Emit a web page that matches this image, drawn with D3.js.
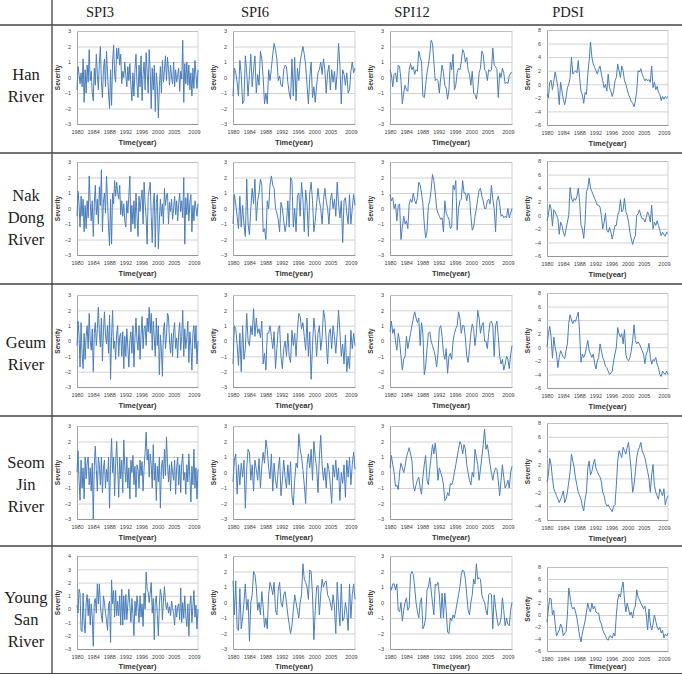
<!DOCTYPE html>
<html><head><meta charset="utf-8">
<script src="https://cdn.jsdelivr.net/npm/d3@7"></script>
<style>body{margin:0;background:#fff}svg{display:block}</style>
</head><body>
<svg id="c" width="682" height="674"></svg>
<script>
// ---------- data ----------
const rivers = [["Han","River"],["Nak","Dong","River"],["Geum","River"],["Seom","Jin","River"],["Young","San","River"]];
const indexNames = ["SPI3","SPI6","SPI12","PDSI"];
const spiTicks = [-3,-2,-1,0,1,2,3];
const spiTicksTall = [-3,-2,-1,0,1,2,3,4];
const pdsiTicks = [-6,-4,-2,0,2,4,6,8];
const xTickMonths = [0,48,96,144,192,240,288,348];
const xTickLabels = ["1980","1984","1988","1992","1996","2000","2005","2009"];
const xTitle = "Time(year)";
const yTitle = "Severity";

const hanSPI3 = [-0.8,0.7,0.2,-0.4, 0.3,-0.6,1.2,-1.6, 0.5,-1.0,0.8,-0.3, 1.8,-0.2,0.4,-1.0, -1.5,0.6,-0.5,1.5, 0.2,-0.8,1.0,2.0, -0.3,-1.3,0.5,1.2, -0.6,1.7,0.3,-1.0, -2.0,0.5,-1.8,1.0, 2.1,0.2,-0.3,1.9, 1.2,1.9,0.8,1.5, -0.4,0.4,0.0,1.0, 0.2,-0.6,0.7,-0.2, 0.9,-0.5,-1.5,0.3, -1.2,0.5,1.5,-0.4, -1.3,0.8,-0.6,1.4, -1.5,0.2,1.0,-0.8, 1.6,0.3,-1.0,1.8, 0.4,-2.0,0.6,-0.8, 0.8,-2.2,0.3,-0.5, -2.6,-0.6,0.7,-1.0, 1.1,-0.3,0.5,1.4, -0.2,1.3,0.5,-0.5, 0.8,0.0,-0.4,1.0, -0.6,0.5,-0.3,0.2, 0.6,-0.9,0.4,-0.1, 2.4,-1.6,0.9,-0.4, 1.0,-0.5,0.8,-0.8, 0.3,-1.2,0.6,-0.7, 1.1,0.2,-0.7,0.5];
const hanSPI6 = [-1.2,0.6,0.3, -0.3,-1.2,1.1, 0.2,-1.7,-1.5, 1.4,0.3,-1.2, 0.2,1.5,-0.6, 0.5,1.4,-1.0, 0.2,-0.5,1.7, 1.2,0.0,-1.7, -1.0,-1.7,0.5, -0.2,0.6,1.5, 2.2,1.8,1.2, -0.2,0.1,-0.5, -0.6,0.5,0.8, 0.7,-0.3,-1.0, -1.4,1.2,-1.2, 1.3,-1.5,0.6, -0.2,1.0,1.5, 2.0,1.5,0.8, -0.5,-1.7,0.0, 1.0,-1.3,-0.6, -1.6,-0.5,0.3, 0.5,1.0,0.2, 1.2,0.5,-1.0, 0.3,0.8,-0.8, 0.5,-0.3,0.4, -0.8,0.3,2.2, 0.8,-1.7,0.5, 0.2,-0.5,0.3, -1.0,-0.8,0.4, 1.0,0.3,0.6];
const hanSPI12 = [0.5,0.2,-0.6, 0.2,0.3,-0.3, 0.8,0.7,-0.2, -1.7,-1.0,-0.5, -0.8,-0.9,0.5, 0.9,0.5,0.7, 0.2,0.5,0.4, 1.7,1.3,1.0, -1.2,-1.3,-0.5, 0.3,0.8,1.5, 2.4,2.2,1.0, -0.2,-0.1,-0.2, -1.0,0.0,0.8, 0.3,-0.5,-0.7, -1.4,-0.8,1.0, 0.5,1.5,-0.8, -0.5,0.3,0.6, 0.5,1.0,1.8, 1.6,1.0,1.3, 0.5,0.2,-0.5, 0.4,-1.0,-1.1, -1.4,-0.8,0.3, 0.6,1.7,1.5, 0.5,0.4,-0.2, 0.5,0.4,0.5, 1.9,0.8,0.7, 0.5,-1.3,0.3, 0.0,0.6,0.3, -0.4,-0.3,-0.4, 0.1,0.3,0.3];
const hanPDSI = [-1.5,-2.0,0.3, 0.6,-0.8,0.5, 1.8,0.8,-0.5, -3.0,0.3,-1.0, -2.2,-3.0,-2.0, -0.5,0.0,1.0, 4.0,1.5,1.8, 2.0,1.7,3.5, 1.0,-1.0,-1.5, -2.8,-1.2,-1.5, 1.5,3.5,6.2, 4.0,3.0,2.5, 2.0,1.5,2.2, 2.7,1.5,0.5, -0.5,0.0,-1.0, 1.5,-0.5,-1.0, -1.8,-1.0,0.5, 1.0,3.0,2.0, 1.0,2.7,2.0, 0.5,0.0,-0.8, -1.5,-2.0,-2.5, -2.8,-3.3,-2.5, -1.0,2.0,1.8, 2.3,1.5,1.0, 0.5,0.8,0.5, 0.7,0.3,2.7, -0.5,0.3,-0.8, -0.3,-1.2,-1.5, -2.4,-1.8,-2.2, -1.8,-2.0,-1.8];

const nakSPI3 = [-0.5,1.1,0.3,-1.2, 0.8,-0.5,0.6,-1.5, 0.2,-1.3,0.5,-0.6, 2.1,0.4,-0.8,0.5, -1.8,0.3,1.5,-0.4, 0.6,-1.0,1.4,0.2, 2.5,-1.5,0.4,1.0, -0.3,2.1,0.5,-1.2, -2.4,0.6,-2.3,1.0, 0.3,1.8,0.8,1.7, 1.0,0.6,1.5,-0.4, 0.5,-0.5,0.3,-0.8, -1.2,0.5,-0.3,0.8, 2.1,-1.5,0.2,-1.0, 0.5,-1.3,1.0,-0.5, -1.8,0.8,-0.2,0.6, 1.2,-1.0,1.7,0.3, -0.6,-2.3,0.8,1.2, 1.7,-0.5,-2.2,0.3, 1.0,-2.5,0.4,0.9, -2.6,-0.8,0.6,-0.5, 0.3,-1.0,1.3,0.2, 0.8,1.0,-1.0,0.4, -0.2,0.6,-0.7,0.0, 0.8,-0.4,0.5,-0.8, 0.3,1.0,-0.2,0.5, -0.6,2.0,-2.3,0.7, -0.4,1.0,-0.8,0.4, 0.9,-1.5,0.2,-0.8, 0.5,0.0,-0.5,0.3];
const nakSPI6 = [-1.0,0.9,0.3, -0.5,-1.3,0.8, -1.2,0.2,-1.0, -1.8,1.9,-1.0, -1.7,0.0,1.3, 0.3,1.9,-0.8, 0.5,1.0,1.9, 1.5,-1.5,-1.3, -2.0,0.5,0.0, 1.5,2.1,1.5, 1.3,0.0,-0.3, -0.7,-1.5,0.4, 0.0,-0.8,-1.5, -1.0,0.5,-1.2, 2.0,1.8,-1.2, 0.0,-1.5,0.8, 1.0,-0.5,1.7, 0.6,-1.5,1.2, 0.3,-1.8,1.0, 1.7,0.5,-1.5, -0.8,0.3,1.3, 0.5,0.0,-1.0, 0.5,1.3,0.5, 0.0,-1.0,0.5, 1.0,0.0,0.6, -0.5,1.7,0.3, -0.6,0.5,-2.2, 0.5,0.7,-0.3, -1.0,0.9,-1.0, 0.0,0.9,0.2];
const nakSPI12 = [0.9,0.5,0.7, 0.0,0.3,-0.8, 0.2,0.3,-2.0, -1.2,-0.5,-1.0, -0.8,-1.3,0.3, 0.6,0.4,1.0, 0.5,0.3,0.7, 1.7,1.5,1.0, 0.3,-1.0,-1.9, -1.5,0.2,0.5, 1.2,2.2,1.8, 1.0,0.0,-0.3, -0.5,-0.7,-0.6, -1.5,0.5,-0.3, -0.5,-0.7,-1.3, -1.2,1.5,1.2, 1.8,-1.4,0.0, 0.5,0.6,1.8, 1.0,1.0,0.5, 1.0,0.8,-0.5, -1.4,-1.2,-0.5, 0.0,0.6,1.2, 1.3,0.8,0.5, 0.0,0.0,0.5, 0.6,0.3,1.5, 0.6,0.0,-1.5, 0.5,0.8,0.3, -0.5,-0.4,-0.6, -0.5,-0.6,0.0, -0.6,-0.3,0.0];
const nakPDSI = [-0.8,0.0,1.6, 1.0,-1.6,0.8, 0.5,0.0,-0.5, -2.8,-1.0,-1.5, -2.5,-3.1,-2.0, -1.0,0.0,4.1, 2.5,2.0,2.5, 2.2,2.8,4.0, 2.0,-1.5,-2.0, -3.4,-1.0,3.5, 4.0,5.5,4.0, 3.5,3.0,2.5, 2.0,1.5,1.5, 1.2,0.0,-2.0, -1.0,0.3,-2.2, -2.5,-1.8,-2.5, -3.5,-2.5,-1.5, -1.5,0.0,0.5, 2.3,0.5,0.8, 2.5,0.5,0.0, -1.0,-2.5,-3.5, -4.3,-3.5,-3.0, 0.0,0.2,0.8, 0.0,-0.5,-0.5, -1.0,-0.3,0.5, 0.0,-1.0,1.5, -2.0,-1.0,-1.5, -0.8,-1.5,-2.2, -3.0,-2.5,-2.8, -3.1,-2.5,-2.7];

const geumSPI3 = [-0.3,1.3,0.4,-1.7, 1.2,-0.8,-1.8,0.5, -1.2,0.3,1.0,-0.5, 1.8,0.0,-0.6,0.8, -2.0,0.5,1.2,-0.3, 0.8,2.2,0.5,-0.4, 1.5,-1.3,0.6,1.9, 0.4,-0.2,1.0,-0.8, 1.7,-2.5,0.3,2.0, -0.5,0.0,-1.2,0.5, 1.0,-1.0,0.3,0.5, -1.0,0.6,-1.8,0.3, -1.0,0.8,-0.4,-1.7, 0.0,0.6,-0.8,1.0, -1.7,0.2,1.5,0.0, -0.6,1.0,-1.2,0.4, 1.6,-0.5,0.8,1.0, -0.3,1.5,0.6,2.2, 0.5,1.8,-0.6,1.3, 0.2,-1.0,1.5,-0.3, 1.0,-2.2,0.4,-0.6, -2.3,0.7,1.2,-0.5, 0.3,1.8,1.6,0.0, -0.8,0.5,-1.0,0.6, 1.2,-0.5,0.2,-1.1, 0.5,1.2,-0.6,0.3, 2.0,-1.0,0.8,-0.5, 0.2,1.3,-1.4,0.6, -0.3,-1.9,0.5,1.0, -0.5,1.0,-1.5,0.0];
const geumSPI6 = [-1.5,1.0,0.8, -0.2,-1.6,0.5, -2.0,1.0,-1.2, -0.5,1.8,0.0, -0.3,1.0,0.4, 2.1,0.3,1.5, 0.5,0.8,0.2, 1.3,-1.5,-0.8, -1.9,0.5,0.5, 1.0,0.3,-0.5, 0.6,-1.8,-0.5, 0.8,1.0,-1.0, -1.8,-0.5,0.0, -1.0,0.5,-1.0, -1.4,0.7,-0.3, 0.5,-1.0,0.7, 1.8,1.6,0.8, 1.2,0.3,-0.6, 1.5,-1.0,0.6, -2.5,-0.3,1.5, 0.5,-1.0,0.5, 1.0,-0.6,0.2, 2.0,1.5,0.0, -1.5,0.5,0.8, -0.5,1.0,0.3, -0.8,0.5,2.0, 0.6,-1.0,-0.2, -1.5,0.4,-2.0, -1.0,-1.8,0.7, -0.5,0.5,-0.3];
const geumSPI12 = [0.6,1.3,0.5, 0.8,0.0,-0.6, 0.5,0.0,-1.0, -1.9,-1.2,-1.0, 0.3,-0.5,0.0, 0.5,1.0,1.5, 1.9,1.5,1.2, 1.5,-0.3,1.2, 0.5,-2.2,-1.7, -0.5,0.5,0.6, 0.0,-0.3,-0.6, -1.0,-1.7,-0.8, 0.8,1.0,0.3, -0.8,-1.2,-0.5, -2.1,-1.0,-0.8, -1.2,0.0,0.5, 0.8,1.0,1.9, 1.5,0.5,1.0, 1.0,0.2,-1.0, -1.4,-0.5,0.5, 1.1,0.8,-0.3, 0.5,2.0,1.5, 0.5,1.0,1.2, 0.0,0.0,-0.5, 0.5,1.2,1.3, 1.0,-1.0,1.0, 1.3,0.3,-1.0, -1.5,-1.2,-1.9, -1.5,-1.0,-1.2, -1.8,-0.9,-0.3];
const geumPDSI = [0.0,2.0,3.1, 1.5,-1.6,1.5, 0.0,-1.0,-3.0, -1.5,-0.5,-1.0, -1.5,-1.7,-0.5, 0.5,3.5,4.8, 4.0,3.5,4.0, 3.8,4.5,5.2, 2.0,-2.2,-1.0, -1.5,-1.0,0.0, 1.0,-0.5,-1.0, -1.5,-1.0,-2.3, -3.2,-2.0,-1.5, 0.5,-0.5,-1.5, -2.0,-2.8,-3.0, -3.5,-4.0,-3.8, -3.5,-2.0,-1.0, 0.0,2.9,2.0, 1.5,2.0,0.5, 2.6,-1.0,-1.8, -2.0,-1.5,-0.5, 1.0,3.3,1.0, 0.5,0.8,0.5, 0.0,-0.5,-1.0, -2.4,-1.0,-0.5, 0.6,-1.5,-2.5, -1.8,-2.0,-1.5, -2.5,-3.0,-4.0, -4.3,-3.5,-3.8, -4.0,-3.5,-4.0];

const seomSPI3 = [0.0,1.4,-0.5,-1.8, 0.8,-1.0,0.3,-1.7, 1.0,-0.4,0.6,1.0, -0.8,0.3,-1.2,0.6, -3.0,0.4,1.7,0.2, -1.2,1.0,0.5,-0.8, 1.0,-1.3,0.3,0.8, -1.0,0.2,-0.6,1.0, -2.3,0.5,2.2,0.0, 1.0,-1.5,0.6,2.0, 0.3,-1.6,1.0,-0.4, 0.8,-1.3,2.1,0.4, -0.6,1.0,-1.0,0.3, -1.7,0.8,0.0,1.1, -0.8,0.4,-1.6,0.5, 0.2,-1.0,0.8,-0.2, 0.7,-1.2,0.3,1.3, 2.6,0.8,1.5,-0.3, 1.2,0.5,-1.0,1.8, -0.5,0.6,-1.8,0.4, -0.6,1.0,-2.3,0.3, 0.8,-0.4,1.5,-0.2, 2.3,0.6,-0.6,0.5, -1.2,0.7,0.0,-0.5, 0.8,-1.4,0.3,1.0, -0.8,0.5,-1.3,0.6, 1.2,-0.5,0.0,-1.4, 0.5,-0.6,1.2,-0.3, -1.9,0.4,-0.8,1.5, -1.0,0.3,-1.7,0.2];
const seomSPI6 = [-0.6,0.8,1.2, -1.4,0.5,-0.8, 0.6,-0.3,0.8, -2.3,0.3,1.5, 1.3,-0.5,0.5, -1.2,0.8,0.2, -0.5,0.9,-1.0, 0.4,1.3,0.6, 2.1,1.5,0.3, -0.4,1.2,-1.2, 0.6,-0.5,-1.0, 0.2,1.0,-1.5, -0.5,0.8,-0.3, -1.0,0.5,-0.8, 0.7,-1.5,-2.1, -0.5,0.6,0.3, 2.5,1.5,1.0, 0.2,-0.8,-2.0, 0.5,1.2,0.3, 1.5,-0.5,2.0, 1.0,0.3,-1.3, 1.0,2.4,0.5, -0.5,0.3,-1.0, 0.6,0.2,-0.8, -2.0,0.5,-0.3, 0.8,-0.5,0.3, -1.8,0.0,-0.7, 0.5,-1.6,0.8, -0.3,1.0,-0.8, 0.5,1.3,0.2];
const seomSPI12 = [0.3,1.1,0.5, 0.0,-0.9,-0.8, -1.1,0.0,0.6, 0.3,0.0,0.4, 1.0,1.3,1.6, 1.2,0.8,-0.8, -1.2,-0.8,-0.5, -0.3,-1.0,-1.4, -0.3,0.5,1.1, -0.5,-0.8,0.2, 1.0,1.8,1.2, 1.9,1.0,-0.5, 0.3,0.0,-0.3, -0.8,-1.8,-1.7, -1.3,-1.5,-0.7, -0.8,-0.5,0.0, 0.5,1.0,1.5, 2.0,1.8,1.2, 1.8,1.5,0.5, 0.0,-0.5,-0.8, 0.0,-0.3,1.5, 1.0,0.5,-0.5, 0.2,1.0,1.8, 2.8,1.5,1.8, 1.2,0.5,0.0, -0.5,0.0,0.3, 0.2,-0.5,-1.5, -0.5,0.5,-0.3, -1.0,-0.8,-0.5, -1.0,0.0,0.4];
const seomPDSI = [-0.5,0.5,2.9, 2.0,0.0,-1.5, -2.0,-2.5,-3.0, -3.5,-3.0,-2.5, -1.8,-3.5,-3.0, -2.0,-0.5,1.0, 3.5,2.5,1.5, 0.0,-1.0,-2.0, -2.5,-3.0,-4.0, -4.7,-3.0,-2.0, 1.5,2.5,0.5, 1.0,2.0,2.8, 1.5,1.0,0.5, 0.2,-0.5,-2.0, -2.5,-3.5,-4.0, -3.8,-4.2,-4.5, -4.8,-4.0,-3.8, -1.0,2.5,4.0, 3.5,3.0,4.5, 4.0,3.5,4.5, 5.2,3.0,1.0, -2.0,-1.0,1.0, 3.0,4.0,4.5, 5.2,4.0,3.5, 3.0,2.0,1.0, 0.0,-2.0,0.5, 2.0,-1.0,-2.0, -2.5,-3.0,-1.5, -2.0,-2.5,-1.5, -3.8,-3.0,-2.5];

const youngSPI3 = [0.3,-0.3,1.5,1.2, -1.6,-1.7,1.2,-1.0, -1.8,0.5,1.1,-0.5, 0.8,-1.2,0.4,-0.6, -2.8,0.5,0.8,-0.3, 1.9,0.4,1.9,0.3, -0.5,-1.0,1.0,0.5, -0.3,-0.8,-1.6,0.3, 0.6,-2.5,2.2,0.4, 1.4,-0.6,1.4,-0.5, 0.6,-0.5,1.0,-1.2, 1.5,-1.2,1.0,-0.8, 1.1,-0.8,0.4,1.5, 0.3,-1.0,0.8,-0.4, -2.0,0.6,-0.5,1.0, 0.2,-1.0,1.0,-0.6, 0.4,-1.3,1.2,0.0, 2.8,1.5,1.3,0.5, 1.2,2.0,-0.3,0.8, -2.3,0.5,1.0,-0.4, -2.0,0.3,1.5,1.0, -0.8,0.6,1.7,0.5, 0.0,0.5,-0.3,0.2, -0.5,0.6,0.1,-0.4, -1.2,0.3,-0.6,0.2, 0.4,-0.8,1.6,-1.0, 0.5,-0.7,1.0,-0.5, -1.3,0.4,-2.0,0.3, 1.0,-1.0,0.2,1.4, -0.6,0.3,-1.5,0.0];
const youngSPI6 = [1.4,-0.8,1.4, -1.7,-1.8,0.9, -1.7,-1.0,0.0, 1.2,-0.5,0.2, -2.5,0.0,0.5, 2.0,1.8,1.0, -0.5,0.0,-0.8, 0.7,-0.3,-1.6, -1.0,-1.7,0.5, 1.3,1.0,0.5, 1.3,-0.5,-0.8, 0.8,1.3,0.0, -0.3,0.5,0.7, 0.0,-0.8,-1.4, -2.0,-1.5,-0.5, 0.5,0.0,-0.5, -1.0,0.0,0.5, 2.5,1.5,1.3, 1.0,0.2,2.1, 2.0,0.5,-2.4, -0.5,1.0,1.1, -0.8,0.5,1.5, 1.0,1.3,1.4, 0.5,0.3,0.0, -0.5,0.5,-0.3, -2.0,1.3,-0.3, -1.5,1.2,-1.2, -1.0,0.0,-0.6, -1.8,1.2,-1.0, 0.5,1.2,0.2];
const youngSPI12 = [1.0,0.8,1.2, 1.2,0.8,1.2, -0.5,-0.6,0.0, -1.2,-0.5,0.0, 0.3,-0.5,-0.3, 1.8,2.0,1.8, 1.0,0.0,-0.6, -1.0,0.0,0.3, -1.7,-1.5,-1.0, 0.8,1.0,1.6, 0.8,0.0,-0.8, 1.2,1.1,1.3, 0.5,-1.0,0.6, -1.0,0.6,-0.5, -1.9,-2.0,-1.0, -1.2,-0.8,-1.0, -0.5,0.0,0.5, 1.0,1.8,2.1, 2.0,1.5,0.5, -0.5,-0.8,0.0, 0.5,1.5,1.2, 2.5,1.5,1.6, 1.5,0.5,0.2, 0.0,-0.5,-0.8, 0.5,0.6,0.5, -1.7,0.5,-0.3, -1.0,-1.5,-1.4, -1.0,0.3,-0.5, -1.5,-1.0,-1.4, -1.5,-0.5,0.0];
const youngPDSI = [-1.2,1.0,2.8, 2.7,0.0,0.8, -1.5,-3.5,-3.0, -2.5,-1.5,-2.0, -3.5,-3.0,-2.8, 0.0,4.5,3.0, 1.5,1.0,1.3, 0.5,-0.5,-2.0, -3.5,-4.5,-3.0, -2.0,-1.0,0.5, 2.0,1.0,0.5, 2.0,1.0,1.5, 0.5,0.3,0.3, -1.0,-1.5,-2.5, -3.0,-3.5,-4.0, -4.2,-3.5,-3.5, -3.8,-3.0,-3.5, 0.0,2.5,3.5, 3.0,4.5,5.5, 2.5,0.5,2.0, 1.0,0.0,0.5, -0.5,1.0,1.5, 4.2,3.0,2.5, 2.0,1.5,1.0, 1.5,0.0,-2.5, 1.0,-1.5,-2.5, -1.5,0.0,-1.0, -2.0,-2.5,-2.0, -3.0,-2.5,-3.8, -3.2,-3.5,-3.0];

// table built from the named series
const seriesTable = [
  [hanSPI3, hanSPI6, hanSPI12, hanPDSI],
  [nakSPI3, nakSPI6, nakSPI12, nakPDSI],
  [geumSPI3, geumSPI6, geumSPI12, geumPDSI],
  [seomSPI3, seomSPI6, seomSPI12, seomPDSI],
  [youngSPI3, youngSPI6, youngSPI12, youngPDSI]
];
const tickTable = [
  [spiTicks, spiTicks, spiTicks, pdsiTicks],
  [spiTicks, spiTicks, spiTicks, pdsiTicks],
  [spiTicks, spiTicks, spiTicks, pdsiTicks],
  [spiTicks, spiTicks, spiTicks, pdsiTicks],
  [spiTicksTall, spiTicks, spiTicks, pdsiTicks]
];

// ---------- layout ----------
const svg = d3.select("#c");
const W = 682, H = 674;
const rowLines = [25, 153, 284, 416, 546];
const colX = [[77,198],[233,355],[390,512],[547,668]];
const spiY = [[31,124],[162,255],[295,387],[426,519],[556,649]];
const pdsiY = [[30,125],[161,256],[293,388],[423,520],[567,651]];
const headerX = [100, 255, 412, 568];
const labelCenters = [86, 218, 354, 485, 620];
const serif = "'Liberation Serif','DejaVu Serif',serif";
const sans = "'Liberation Sans','Arial',sans-serif";
const lineColor = "#4a7ebb";

// table lines
svg.append("line").attr("x1",52).attr("x2",52).attr("y1",0).attr("y2",H)
  .attr("stroke","#444").attr("stroke-width",1.3);
rowLines.forEach(y => svg.append("line").attr("x1",0).attr("x2",W).attr("y1",y).attr("y2",y)
  .attr("stroke","#444").attr("stroke-width",1.6));
svg.append("line").attr("x1",0).attr("x2",W).attr("y1",673.5).attr("y2",673.5)
  .attr("stroke","#444").attr("stroke-width",1);

// headers
indexNames.forEach((t,i) => svg.append("text").attr("x",headerX[i]).attr("y",17)
  .attr("text-anchor","middle").attr("font-family",serif).attr("font-size",14.5)
  .attr("fill","#222").text(t));

// row labels
rivers.forEach((lines,r) => {
  const n = lines.length, gap = 22;
  lines.forEach((t,k) => svg.append("text").attr("x",26)
    .attr("y", labelCenters[r] + (k-(n-1)/2)*gap + 5)
    .attr("text-anchor","middle").attr("font-family",serif).attr("font-size",16.5)
    .attr("fill","#222").text(t));
});

// panels
seriesTable.forEach((row,r) => row.forEach((data,c) => {
  const [x0,x1] = colX[c];
  const [yt,yb] = (c === 3 ? pdsiY : spiY)[r];
  const ticks = tickTable[r][c];
  const x = d3.scaleLinear().domain([0,360]).range([x0,x1]);
  const y = d3.scaleLinear().domain(d3.extent(ticks)).range([yb,yt]);
  const g = svg.append("g");

  const ya = g.append("g").attr("transform",`translate(${x0},0)`)
    .call(d3.axisLeft(y).tickValues(ticks).tickFormat(d3.format("d")).tickSize(-(x1-x0)).tickPadding(6));
  ya.selectAll(".tick line").attr("stroke","#c6c6c6").attr("stroke-width",0.8);
  ya.select(".domain").attr("stroke","#8c8c8c").attr("stroke-width",0.8);
  ya.selectAll("text").attr("font-family",sans).attr("font-size",5.5).attr("fill","#444");

  g.append("line").attr("x1",x1).attr("x2",x1).attr("y1",yt).attr("y2",yb)
    .attr("stroke","#c6c6c6").attr("stroke-width",0.8);

  const xa = g.append("g").attr("transform",`translate(0,${yb})`)
    .call(d3.axisBottom(x).tickValues(xTickMonths).tickFormat((d,i)=>xTickLabels[i]).tickSize(0).tickPadding(6));
  xa.select(".domain").attr("stroke","#8c8c8c").attr("stroke-width",0.8);
  xa.selectAll("text").attr("font-family",sans).attr("font-size",5.5).attr("fill","#444");

  const line = d3.line().x((d,i)=>x(i*360/(data.length-1))).y(d=>y(d));
  g.append("path").datum(data).attr("d",line).attr("fill","none")
    .attr("stroke",lineColor).attr("stroke-width",1).attr("stroke-linejoin","round");

  g.append("text").attr("x",(x0+x1)/2).attr("y",Math.min(yb+21, 669)).attr("text-anchor","middle")
    .attr("font-family",sans).attr("font-weight","bold").attr("font-size",7.5)
    .attr("fill","#333").text(xTitle);
  g.append("text").attr("transform",`translate(${x0-17},${(yt+yb)/2}) rotate(-90)`)
    .attr("text-anchor","middle").attr("font-family",sans).attr("font-weight","bold")
    .attr("font-size",6.5).attr("fill","#333").text(yTitle);
}));
</script>
</body></html>
